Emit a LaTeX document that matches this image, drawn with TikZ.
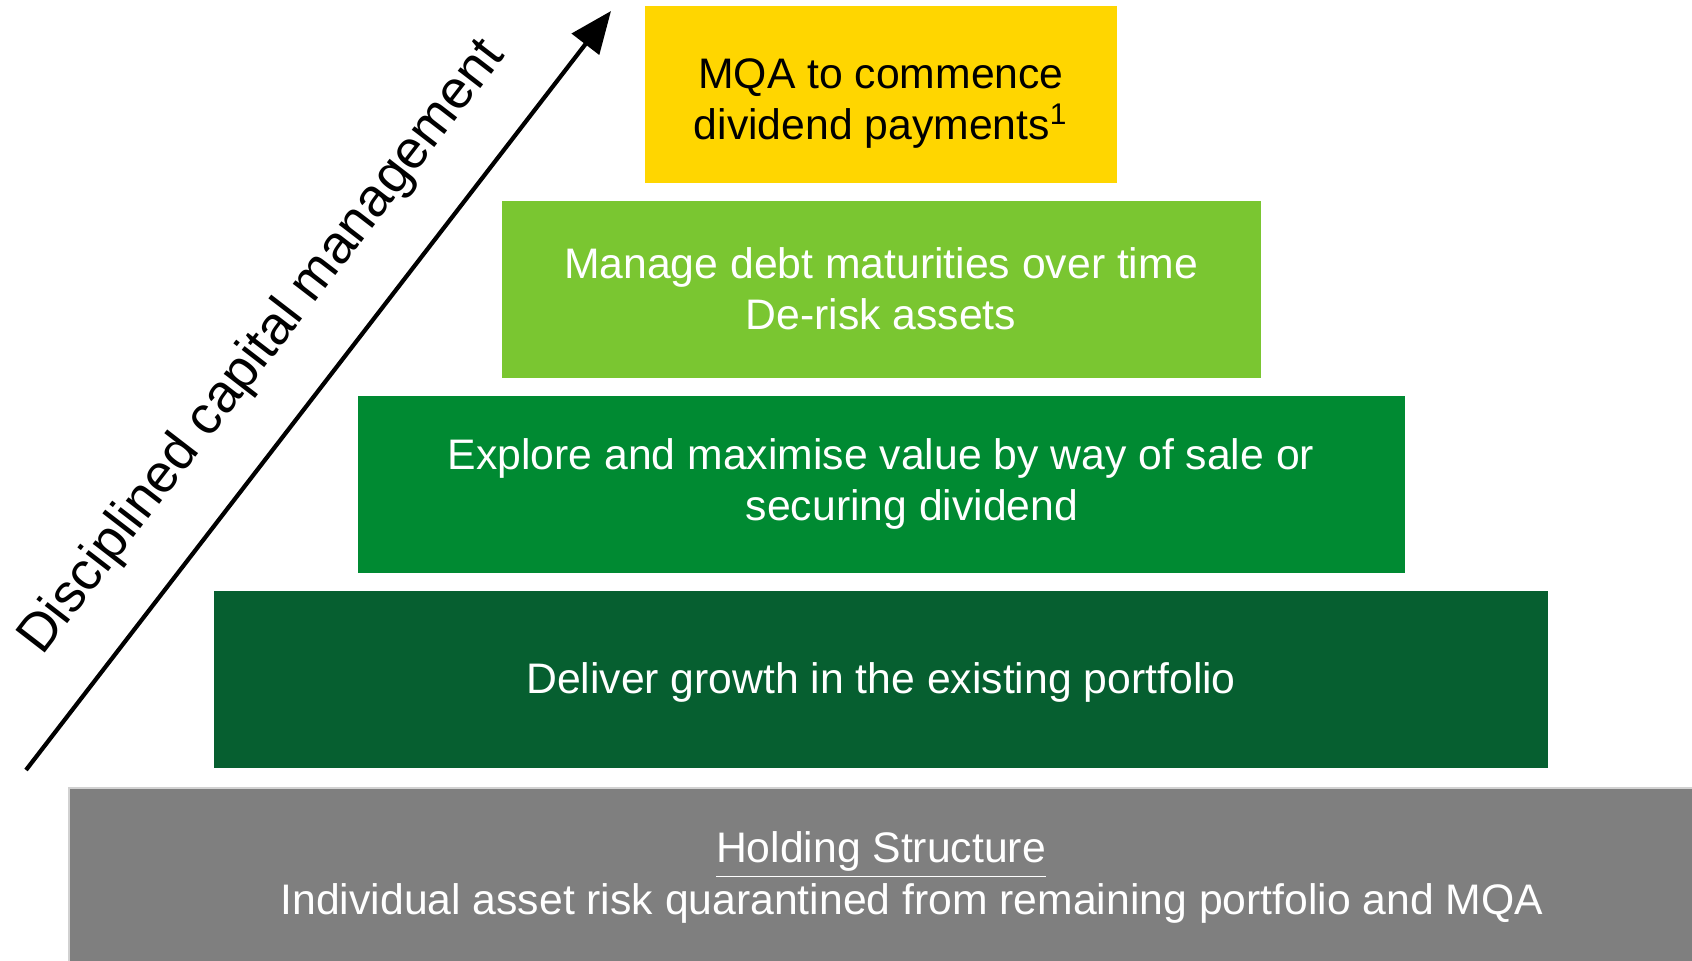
\documentclass[tikz,border=0pt]{standalone}
\usepackage{fontspec}
\setmainfont{Liberation Sans}
\usetikzlibrary{arrows.meta}

\definecolor{mqayellow}{HTML}{FFD600}
\definecolor{lightgreen}{HTML}{7AC631}
\definecolor{midgreen}{HTML}{008A32}
\definecolor{darkgreen}{HTML}{065F30}
\definecolor{holdgray}{HTML}{7F7F7F}

\begin{document}
\begin{tikzpicture}[tier/.style={minimum height=1.77cm, inner sep=0pt, align=center,
        text=white, font=\fontsize{12.15}{14.6}\selectfont}]
    \useasboundingbox (0,0) rectangle (16.92,9.60);
    % the pyramid, widest at the bottom
    \node[tier, fill=mqayellow, text=black, minimum width=4.72cm] (top) at (8.81,8.66)
        {\rule{0pt}{14pt}MQA to commence\\dividend payments\textsuperscript{1}};
    \node[tier, fill=lightgreen, minimum width=7.59cm] (debt) at (8.81,6.71)
        {Manage debt maturities over time\\De-risk assets};
    \node[tier, fill=midgreen, minimum width=10.47cm] (sale) at (8.81,4.76)
        {Explore and maximise value by way of sale or\\\hspace*{0.62cm}securing dividend};
    \node[tier, fill=darkgreen, minimum width=13.34cm] (growth) at (8.81,2.81)
        {\rule{0pt}{11pt}Deliver growth in the existing portfolio};
    % base runs off the page
    \fill[holdgray] (0.69,-0.1) rectangle (17.2,1.72);
    \draw[black!18, line width=0.8pt] (0.69,-0.1) -- (0.69,1.72) -- (17.2,1.72);
    \node[tier] (hold) at (8.81,0.825)
        {\underline{Holding Structure}\\\hspace*{0.62cm}Individual asset risk quarantined from remaining portfolio and MQA};
    \coordinate (low) at (0.26,1.90);
    \coordinate (high) at (6.11,9.49);
    \draw[line width=1.2pt, -{Triangle[length=0.42cm, width=0.34cm]}] (low) --
        node[sloped, above=0.43cm, inner sep=0pt, font=\fontsize{15.3}{18}\selectfont] (label)
        {Disciplined capital management} (high);
\end{tikzpicture}
\end{document}
